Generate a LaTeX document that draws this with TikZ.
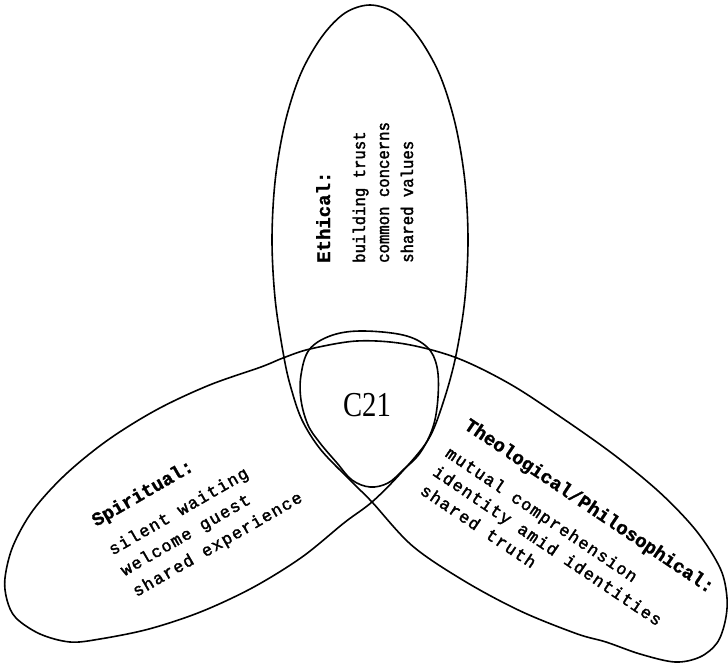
\documentclass[tikz,border=0pt]{standalone}
\usepackage{fontspec}
\setmainfont{Liberation Serif}
\newfontfamily\twt[FakeBold=1.2]{Liberation Mono}
\newfontfamily\twe[FakeStretch=0.92, FakeBold=2]{Liberation Mono}
\newfontfamily\tws[LetterSpace=7.5, FakeBold=2]{Liberation Mono}
\newcommand\ttlfont{\twt\bfseries\fontsize{19}{24}\selectfont}
\tikzset{
  lobe/.style={draw=black, line width=1.6pt, line join=round},
  ethblock/.style={anchor=base west, inner sep=0pt, rotate=90, font=\twe\fontsize{17}{24}\selectfont},
  wdblock/.style={anchor=base west, inner sep=0pt, font=\tws\fontsize{17}{24}\selectfont},
  core/.style={inner sep=0pt, font=\fontsize{35}{35}\selectfont}
}
\begin{document}
\begin{tikzpicture}[x=1pt,y=-1pt]
\useasboundingbox (0,0) rectangle (728,668);
\fill[white] (0,0) rectangle (728,668);
% trefoil outline (one closed curve with three crossings)
\draw[lobe] plot[smooth cycle, tension=0.55] coordinates {
 (370,5) (395,13) (418,36.5) (439.3,73.8) (454.9,122.5) (464.7,179.2) (468,240)
 (464.7,300.8) (455.5,357.5) (443,403) (428,440) (400,474) (372,502)
 (344.4,522.6) (302.1,557) (253.1,587.4) (200.9,611.8) (149,629) (100,639)
 (70,642) (40,634) (16,618) (7,600) (5,578) (13,546) (33,510.3) (65.6,474.4)
 (107.9,440) (156.9,409.6) (209.1,385.2) (261,367) (283,358) (310,349)
 (357,341) (405,344) (457,358) (510,384) (563,418.6) (615.6,456) (661.4,494)
 (697.1,531.8) (720.4,568.8) (727,598) (725,622) (717,643) (700,657)
 (675,662) (640,654) (606,642) (576.6,633.7) (521,611.3) (465,581.4)
 (412.4,545.9) (372,502) (353,483) (321,450) (302,420) (291,388)
 (284,357.5) (275.3,300.8) (272,240) (275.3,179.2) (285.1,122.5)
 (300.7,73.8) (322,36.5) (345,13)};
% central region
\draw[lobe] plot[smooth cycle, tension=0.6] coordinates {
 (360,331) (403,335) (427,347) (437,367) (438,397) (433,427) (420,453)
 (403,470) (388,483) (370,487) (352,480) (337,463) (320,443) (308,425)
 (301,400) (301,375) (309,350) (330,336)};
\node[core] (c21) at (367,405) {\scalebox{0.82}[1]{C21}};
% Ethical
\node[ethblock] (eth) at (330,263) {\begin{tabular}[t]{@{}l@{}}{\ttlfont Ethical:}\\[11pt]
 building trust\\ common concerns\\ shared values\end{tabular}};
% Spiritual
\node[wdblock, rotate=30] (spi) at (96,527) {\begin{tabular}[t]{@{}l@{}}{\ttlfont Spiritual:}\\[9pt]
 silent waiting\\ welcome guest\\ shared experience\end{tabular}};
% Theological / Philosophical
\node[wdblock, rotate=-34] (the) at (463,428) {\fontsize{17}{22.5}\selectfont\begin{tabular}[t]{@{}l@{}}{\ttlfont Theological/Philosophical:}\\[11pt]
 mutual comprehension\\ identity amid identities\\ shared truth\end{tabular}};
\end{tikzpicture}
\end{document}
